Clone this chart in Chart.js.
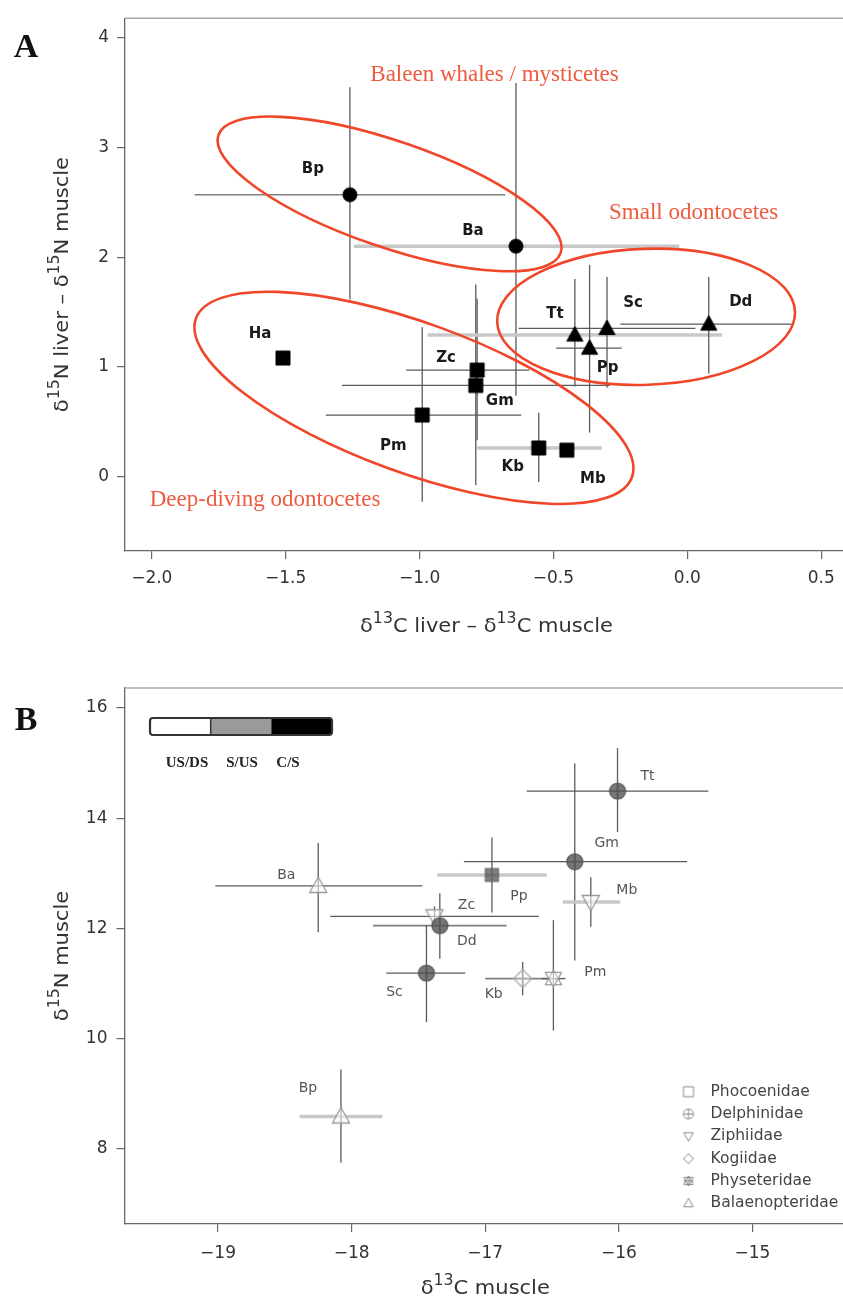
<!DOCTYPE html>
<html>
<head>
<meta charset="utf-8">
<title>Liver and muscle isotope values in cetaceans</title>
<script src="https://cdn.jsdelivr.net/npm/chart.js@4.4.1/dist/chart.umd.min.js"></script>
<style>
  html, body { margin: 0; padding: 0; background: #fff; width: 843px; height: 1301px; overflow: hidden; }
  canvas { position: absolute; left: 0; }
  #panelA { top: 0; }
  #panelB { top: 655px; }
</style>
</head>
<body>
<canvas id="panelA" width="860" height="650" style="width:860px;height:650px"></canvas>
<canvas id="panelB" width="860" height="646" style="width:860px;height:646px"></canvas>
<script>
// ---------- panel A: liver minus muscle ----------
var speciesA = ['Bp', 'Ba', 'Ha', 'Zc', 'Gm', 'Pm', 'Kb', 'Mb', 'Tt', 'Pp', 'Sc', 'Dd'];
var groupA   = ['Baleen', 'Baleen', 'Deep', 'Deep', 'Deep', 'Deep', 'Deep', 'Deep', 'Small', 'Small', 'Small', 'Small'];
var dC_A     = [-1.26, -0.64, -1.51, -0.785, -0.79, -0.99, -0.555, -0.45, -0.42, -0.365, -0.30, 0.08];
var dN_A     = [2.57, 2.10, 1.08, 0.97, 0.83, 0.56, 0.26, 0.24, 1.29, 1.17, 1.35, 1.39];
var dC_A_lo  = [-1.84, -1.245, null, -1.05, -1.29, -1.35, -0.785, null, -0.97, -0.49, -0.63, -0.25];
var dC_A_hi  = [-0.68, -0.03, null, -0.59, -0.29, -0.62, -0.32, null, 0.13, -0.245, 0.03, 0.39];
var dN_A_lo  = [1.615, 0.735, null, 0.33, -0.08, -0.23, -0.05, null, 0.82, 0.40, 0.81, 0.94];
var dN_A_hi  = [3.55, 3.59, null, 1.62, 1.75, 1.36, 0.58, null, 1.80, 1.93, 1.82, 1.82];
var groupNamesA = { Baleen: 'Baleen whales / mysticetes', Small: 'Small odontocetes', Deep: 'Deep-diving odontocetes' };
var xTicksA = [-2.0, -1.5, -1.0, -0.5, 0.0, 0.5];
var xTickLabelsA = ['\u22122.0', '\u22121.5', '\u22121.0', '\u22120.5', '0.0', '0.5'];
var yTicksA = [0, 1, 2, 3, 4];
var yTickLabelsA = ['0', '1', '2', '3', '4'];
var xTitleA = [{ t: '\u03b4' }, { t: '13', sup: true }, { t: 'C liver \u2013 \u03b4' }, { t: '13', sup: true }, { t: 'C muscle' }];
var yTitleA = [{ t: '\u03b4' }, { t: '15', sup: true }, { t: 'N liver \u2013 \u03b4' }, { t: '15', sup: true }, { t: 'N muscle' }];

// ---------- panel B: muscle values ----------
var speciesB = ['Tt', 'Gm', 'Pp', 'Mb', 'Ba', 'Zc', 'Dd', 'Sc', 'Kb', 'Pm', 'Bp'];
var familyB  = ['Delphinidae', 'Delphinidae', 'Phocoenidae', 'Ziphiidae', 'Balaenopteridae', 'Ziphiidae',
                'Delphinidae', 'Delphinidae', 'Kogiidae', 'Physeteridae', 'Balaenopteridae'];
var d13C_B    = [-16.01, -16.33, -16.95, -16.21, -18.25, -17.38, -17.34, -17.44, -16.72, -16.49, -18.08];
var d15N_B    = [14.49, 13.21, 12.97, 12.48, 12.77, 12.22, 12.05, 11.19, 11.09, 11.09, 8.59];
var d13C_B_lo = [-16.69, -17.16, -17.36, -16.42, -19.02, -18.16, -17.84, -17.74, -17.00, -16.58, -18.39];
var d13C_B_hi = [-15.33, -15.49, -16.54, -15.99, -17.47, -16.60, -16.84, -17.15, -16.44, -16.40, -17.77];
var d15N_B_lo = [13.75, 11.42, 12.29, 12.03, 11.93, 12.05, 11.45, 10.30, 10.79, 10.15, 7.75];
var d15N_B_hi = [15.27, 14.99, 13.65, 12.93, 13.55, 12.40, 12.64, 12.06, 11.39, 12.15, 9.44];
var families = ['Phocoenidae', 'Delphinidae', 'Ziphiidae', 'Kogiidae', 'Physeteridae', 'Balaenopteridae'];
var habitats = ['US/DS', 'S/US', 'C/S'];
var xTicksB = [-19, -18, -17, -16, -15];
var xTickLabelsB = ['\u221219', '\u221218', '\u221217', '\u221216', '\u221215'];
var yTicksB = [8, 10, 12, 14, 16];
var yTickLabelsB = ['8', '10', '12', '14', '16'];
var xTitleB = [{ t: '\u03b4' }, { t: '13', sup: true }, { t: 'C muscle' }];
var yTitleB = [{ t: '\u03b4' }, { t: '15', sup: true }, { t: 'N muscle' }];

Chart.defaults.font.family = "'DejaVu Sans', sans-serif";
Chart.defaults.color = '#333';

// small offscreen canvases used as point styles (R-like pch symbols)
function makeMarker(shape, size, fill, stroke, lw, plus) {
  var pad = Math.ceil(lw) + 2;
  var w = size + pad * 2;
  var c = document.createElement('canvas');
  c.width = w; c.height = w;
  var g = c.getContext('2d');
  var m = w / 2, r = size / 2;
  g.lineWidth = lw; g.strokeStyle = stroke; g.fillStyle = fill;
  function tri(dir) {
    g.beginPath();
    g.moveTo(m, m - dir * r);
    g.lineTo(m + r * 0.95, m + dir * r * 0.72);
    g.lineTo(m - r * 0.95, m + dir * r * 0.72);
    g.closePath();
    g.fill(); g.stroke();
  }
  if (shape === 'circle') {
    g.beginPath(); g.arc(m, m, r, 0, Math.PI * 2); g.fill(); g.stroke();
  } else if (shape === 'square') {
    g.beginPath(); g.rect(m - r, m - r, 2 * r, 2 * r); g.fill(); g.stroke();
  } else if (shape === 'up') {
    tri(1);
  } else if (shape === 'down') {
    tri(-1);
  } else if (shape === 'diamond') {
    g.beginPath(); g.moveTo(m, m - r); g.lineTo(m + r, m); g.lineTo(m, m + r); g.lineTo(m - r, m); g.closePath();
    g.fill(); g.stroke();
  } else if (shape === 'star') {
    tri(1); tri(-1);
  }
  if (plus) {
    g.beginPath();
    g.moveTo(m - r, m); g.lineTo(m + r, m);
    g.moveTo(m, m - r); g.lineTo(m, m + r);
    g.stroke();
  }
  return c;
}

var markersA = {
  Baleen: makeMarker('circle', 14, '#000', '#000', 1, false),
  Small: makeMarker('up', 17, '#000', '#000', 1, false),
  Deep: makeMarker('square', 14, '#000', '#000', 1, false)
};
var markersB = {
  Phocoenidae: makeMarker('square', 13, 'rgba(105,105,105,0.85)', '#666', 1.2, true),
  Delphinidae: makeMarker('circle', 16, 'rgba(95,95,95,0.85)', '#555', 1.2, true),
  Ziphiidae: makeMarker('down', 18, 'rgba(255,255,255,0.55)', '#999', 1.3, false),
  Kogiidae: makeMarker('diamond', 18, 'rgba(255,255,255,0.5)', '#aaa', 1.3, true),
  Physeteridae: makeMarker('star', 17, 'rgba(255,255,255,0.4)', '#999', 1.2, false),
  Balaenopteridae: makeMarker('up', 18, 'rgba(255,255,255,0.55)', '#999', 1.3, false)
};
var legendShapes = { Phocoenidae: 'square', Delphinidae: 'circle', Ziphiidae: 'down', Kogiidae: 'diamond', Physeteridae: 'star', Balaenopteridae: 'up' };

function buildPoints(names, xs, ys, xlo, xhi, ylo, yhi, keep) {
  var out = [];
  for (var i = 0; i < names.length; i++) {
    if (!keep(i)) continue;
    out.push({ name: names[i], x: xs[i], y: ys[i], xLo: xlo[i], xHi: xhi[i], yLo: ylo[i], yHi: yhi[i] });
  }
  return out;
}

function linearAxis(min, max, ticks, labels, size, tickPad, isX) {
  return {
    type: 'linear', position: isX ? 'bottom' : 'left', min: min, max: max,
    afterBuildTicks: function (s) { s.ticks = ticks.map(function (v) { return { value: v }; }); },
    afterFit: function (s) { if (isX) { s.height = size; } else { s.width = size; } },
    ticks: {
      autoSkip: false, maxRotation: 0, minRotation: 0, padding: tickPad, color: '#333', font: { size: 17 },
      callback: function (v) { var k = ticks.indexOf(v); return k < 0 ? '' : labels[k]; }
    },
    grid: { drawOnChartArea: false, drawTicks: true, tickLength: 8, color: '#666', lineWidth: 1.2 },
    border: { display: true, color: '#666', width: 1.3 }
  };
}

// axis title with real superscripts, slightly widened like the original
function drawRich(ctx, parts, cx, cy, vertical) {
  var size = 20, base = size + "px 'DejaVu Sans'", sup = "15px 'DejaVu Sans'";
  ctx.save();
  ctx.translate(cx, cy);
  if (vertical) ctx.rotate(-Math.PI / 2);
  ctx.scale(1.05, 1);
  ctx.fillStyle = '#333'; ctx.textBaseline = 'middle'; ctx.textAlign = 'left';
  var w = 0;
  parts.forEach(function (p) { ctx.font = p.sup ? sup : base; w += ctx.measureText(p.t).width; });
  var x = -w / 2;
  parts.forEach(function (p) {
    ctx.font = p.sup ? sup : base;
    ctx.fillText(p.t, x, p.sup ? -size * 0.4 : 0);
    x += ctx.measureText(p.t).width;
  });
  ctx.restore();
}

function framePlugin(letter, lx, ly, xTitle, xTitleY, yTitle, yTitleX) {
  return {
    id: 'frame',
    afterDraw: function (chart) {
      var a = chart.chartArea, ctx = chart.ctx;
      ctx.save();
      ctx.strokeStyle = '#a8a8a8'; ctx.lineWidth = 1.5;
      ctx.beginPath(); ctx.moveTo(a.left, a.top); ctx.lineTo(a.right, a.top); ctx.lineTo(a.right, a.bottom); ctx.stroke();
      ctx.fillStyle = '#111'; ctx.font = "bold 34px 'Liberation Serif'";
      ctx.textAlign = 'center'; ctx.textBaseline = 'middle';
      ctx.fillText(letter, lx, ly);
      ctx.restore();
      drawRich(ctx, xTitle, (a.left + a.right) / 2, xTitleY, false);
      drawRich(ctx, yTitle, yTitleX, (a.top + a.bottom) / 2, true);
    }
  };
}

function errorBarPlugin(hKind) {
  var hStyles = { dark: ['#5a5a5a', 1.3], mid: ['#808080', 1.6], light: ['#c8c8c8', 3.5] };
  return {
    id: 'errorBars',
    beforeDatasetsDraw: function (chart) {
      var ctx = chart.ctx, x = chart.scales.x, y = chart.scales.y;
      ctx.save();
      chart.data.datasets.forEach(function (ds) {
        ds.data.forEach(function (p) {
          var px = x.getPixelForValue(p.x), py = y.getPixelForValue(p.y);
          if (p.xLo != null) {
            var h = hStyles[hKind[p.name] || 'dark'];
            ctx.strokeStyle = h[0]; ctx.lineWidth = h[1];
            ctx.beginPath(); ctx.moveTo(x.getPixelForValue(p.xLo), py); ctx.lineTo(x.getPixelForValue(p.xHi), py); ctx.stroke();
          }
          if (p.yLo != null) {
            ctx.strokeStyle = '#5a5a5a'; ctx.lineWidth = 1.3;
            ctx.beginPath(); ctx.moveTo(px, y.getPixelForValue(p.yLo)); ctx.lineTo(px, y.getPixelForValue(p.yHi)); ctx.stroke();
          }
        });
      });
      ctx.restore();
    }
  };
}

function labelPlugin(offsets, font, color) {
  return {
    id: 'pointLabels',
    afterDatasetsDraw: function (chart) {
      var ctx = chart.ctx, x = chart.scales.x, y = chart.scales.y;
      ctx.save();
      ctx.font = font; ctx.fillStyle = color; ctx.textAlign = 'center'; ctx.textBaseline = 'middle';
      chart.data.datasets.forEach(function (ds) {
        ds.data.forEach(function (p) {
          var o = offsets[p.name] || [0, 0];
          ctx.fillText(p.name, x.getPixelForValue(p.x) + o[0], y.getPixelForValue(p.y) + o[1]);
        });
      });
      ctx.restore();
    }
  };
}

// ---------- panel A chart ----------
var outlinesA = {
  Baleen: { cx: -1.112, cy: 2.577, rx: 181, ry: 53, rot: 19, tx: -0.72, ty: 3.666 },
  Small: { cx: -0.154, cy: 1.456, rx: 149, ry: 68, rot: -2, tx: 0.0235, ty: 2.405 },
  Deep: { cx: -1.021, cy: 0.717, rx: 232, ry: 75, rot: 20, tx: -1.577, ty: -0.218 }
};
var groupPlugin = {
  id: 'groups',
  afterDatasetsDraw: function (chart) {
    var ctx = chart.ctx, x = chart.scales.x, y = chart.scales.y;
    ctx.save();
    Object.keys(outlinesA).forEach(function (k) {
      var e = outlinesA[k];
      ctx.strokeStyle = '#f0462a'; ctx.lineWidth = 2.6;
      ctx.beginPath();
      ctx.ellipse(x.getPixelForValue(e.cx), y.getPixelForValue(e.cy), e.rx, e.ry, e.rot * Math.PI / 180, 0, Math.PI * 2);
      ctx.stroke();
      ctx.fillStyle = '#ee5b3f'; ctx.font = "23px 'Liberation Serif'";
      ctx.textAlign = 'center'; ctx.textBaseline = 'middle';
      ctx.fillText(groupNamesA[k], x.getPixelForValue(e.tx), y.getPixelForValue(e.ty));
    });
    ctx.restore();
  }
};

var datasetsA = ['Baleen', 'Deep', 'Small'].map(function (g) {
  return {
    label: groupNamesA[g],
    data: buildPoints(speciesA, dC_A, dN_A, dC_A_lo, dC_A_hi, dN_A_lo, dN_A_hi, function (i) { return groupA[i] === g; }),
    pointStyle: markersA[g], pointRadius: 8, pointBorderWidth: 0
  };
});

new Chart(document.getElementById('panelA'), {
  type: 'scatter',
  data: { datasets: datasetsA },
  options: {
    responsive: false, animation: false, devicePixelRatio: 1, events: [],
    layout: { padding: { top: 15, right: 12, bottom: 0, left: 0 } },
    scales: {
      x: linearAxis(-2.1, 0.6, xTicksA, xTickLabelsA, 99, 9, true),
      y: linearAxis(-0.68, 4.18, yTicksA, yTickLabelsA, 125, 8, false)
    },
    plugins: { legend: { display: false }, tooltip: { enabled: false } }
  },
  plugins: [
    errorBarPlugin({ Bp: 'mid', Ba: 'light', Tt: 'light', Kb: 'light' }),
    groupPlugin,
    labelPlugin({
      Bp: [-37, -26], Ba: [-43, -15], Tt: [-20, -21], Sc: [26, -25], Pp: [18, 20], Dd: [32, -22],
      Ha: [-23, -24], Zc: [-31, -12], Gm: [24, 16], Pm: [-29, 31], Kb: [-26, 19], Mb: [26, 29]
    }, "bold 15px 'DejaVu Sans'", '#1a1a1a'),
    framePlugin('A', 26, 48, xTitleA, 627, yTitleA, 63)
  ]
});

// ---------- panel B chart ----------
var extrasB = {
  id: 'extrasB',
  afterDraw: function (chart) {
    var ctx = chart.ctx, a = chart.chartArea;
    ctx.save();
    // habitat scale bar
    var bx = a.left + 25.5, by = a.top + 30, bw = 182, bh = 17, seg = bw / 3;
    var fills = ['#ffffff', '#9a9a9a', '#000000'];
    fills.forEach(function (f, i) { ctx.fillStyle = f; ctx.fillRect(bx + i * seg, by, seg, bh); });
    ctx.strokeStyle = '#333'; ctx.lineWidth = 2.2;
    ctx.beginPath(); ctx.roundRect(bx, by, bw, bh, 3); ctx.stroke();
    ctx.lineWidth = 1.5;
    ctx.beginPath(); ctx.moveTo(bx + seg, by); ctx.lineTo(bx + seg, by + bh); ctx.stroke();
    ctx.fillStyle = '#222'; ctx.font = "bold 15px 'Liberation Serif'";
    ctx.textAlign = 'center'; ctx.textBaseline = 'middle';
    habitats.forEach(function (h, i) { ctx.fillText(h, a.left + [62.5, 117.5, 163.5][i], a.top + 75); });
    // family legend
    var lx = a.left + 564, ly = a.bottom - 132.3;
    ctx.font = "15.5px 'DejaVu Sans'"; ctx.fillStyle = '#444'; ctx.textAlign = 'left';
    families.forEach(function (f, i) {
      var mk = makeMarker(legendShapes[f], 10, 'rgba(0,0,0,0)', '#8a8a8a', 1, f === 'Delphinidae' || f === 'Physeteridae');
      var yy = ly + i * 22.3;
      ctx.drawImage(mk, lx - mk.width / 2, yy - mk.height / 2);
      ctx.fillText(f, lx + 22, yy);
    });
    ctx.restore();
  }
};

var datasetsB = families.map(function (f) {
  return {
    label: f,
    data: buildPoints(speciesB, d13C_B, d15N_B, d13C_B_lo, d13C_B_hi, d15N_B_lo, d15N_B_hi, function (i) { return familyB[i] === f; }),
    pointStyle: markersB[f], pointRadius: 8, pointBorderWidth: 0
  };
});

new Chart(document.getElementById('panelB'), {
  type: 'scatter',
  data: { datasets: datasetsB },
  options: {
    responsive: false, animation: false, devicePixelRatio: 1, events: [],
    layout: { padding: { top: 33, right: 14, bottom: 0, left: 0 } },
    scales: {
      x: linearAxis(-19.7, -14.3, xTicksB, xTickLabelsB, 77, 11, true),
      y: linearAxis(6.64, 16.36, yTicksB, yTickLabelsB, 124.5, 9, false)
    },
    plugins: { legend: { display: false }, tooltip: { enabled: false } }
  },
  plugins: [
    errorBarPlugin({ Pp: 'light', Mb: 'light', Bp: 'light', Kb: 'mid', Dd: 'mid' }),
    labelPlugin({
      Tt: [30, -15], Gm: [32, -18], Ba: [-32, -11], Pp: [27, 21], Mb: [36, -12], Zc: [32, -11],
      Dd: [27, 16], Sc: [-32, 19], Kb: [-29, 16], Pm: [42, -6], Bp: [-33, -28]
    }, "14px 'DejaVu Sans'", '#555'),
    extrasB,
    framePlugin('B', 26, 66.5, xTitleB, 634, yTitleB, 63)
  ]
});
</script>
</body>
</html>
